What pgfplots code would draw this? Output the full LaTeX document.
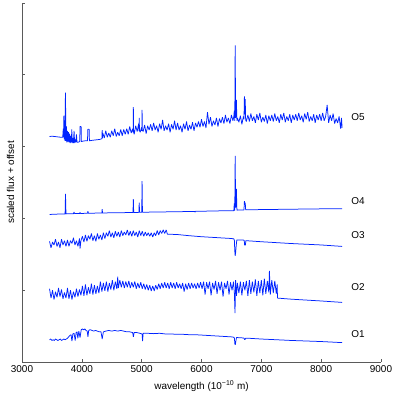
\documentclass[border=0pt]{standalone}
\usepackage{fontspec}
\setmainfont{Liberation Sans}
\usepackage{pgfplots}
\pgfplotsset{compat=1.18}
\definecolor{specblue}{RGB}{0,35,255}
\definecolor{axgray}{RGB}{90,90,90}
\pgfplotsset{spec/.style={specblue, no markers, line width=0.75bp, line join=bevel}}
\begin{document}
\begin{tikzpicture}
\begin{axis}[
  scale only axis, width=359bp, height=359bp,
  xmin=3000, xmax=9000, ymin=0, ymax=5,
  axis lines=left, axis line style={-,axgray,line width=0.6bp},
  tick style={axgray,line width=0.6bp}, major tick length=3bp, tick align=inside,
  xtick={3000,4000,...,9000}, ytick={0,1,...,5}, yticklabels={},
  scaled x ticks=false,
  /pgf/number format/1000 sep={}, /pgf/number format/assume math mode=true,
  tick label style={font=\fontsize{10}{12}\selectfont},
  label style={font=\fontsize{10}{12}\selectfont},
  xlabel={wavelength (10\textsuperscript{−10} m)},
  ylabel={scaled flux + offset},
  xlabel style={at={(axis description cs:0.5,0)},anchor=north,yshift=-15bp},
  ylabel style={at={(axis description cs:-0.012,0.5)},anchor=south},
  clip=false,
]
% O5
\addplot[spec] coordinates {(3460,3.14)(3500,3.145)(3550,3.14)(3600,3.135)(3650,3.13)(3680,3.13)(3690,3.25)(3695,3.13)(3700,3.43)(3706,3.10)(3712,3.30)(3718,3.08)(3723,3.60)(3727,3.75)(3731,3.35)(3736,3.08)(3742,3.28)(3750,3.06)(3760,3.22)(3768,3.07)(3778,3.20)(3786,3.06)(3795,3.18)(3805,3.05)(3815,3.15)(3825,3.06)(3832,3.24)(3840,3.05)(3850,3.12)(3860,3.05)(3870,3.22)(3880,3.05)(3890,3.10)(3900,3.06)(3910,3.17)(3920,3.06)(3935,3.06)(3965,3.07)(3970,3.28)(3988,3.28)(3992,3.07)(4010,3.075)(4050,3.08)(4095,3.08)(4100,3.24)(4122,3.24)(4127,3.08)(4150,3.085)(4200,3.09)(4250,3.095)(4300,3.10)(4335,3.11)(4340,3.23)(4345,3.12)
(4350,3.19)(4375,3.12)(4400,3.22)(4425,3.13)(4450,3.19)(4475,3.13)(4500,3.22)(4525,3.15)(4550,3.25)(4575,3.14)(4600,3.20)(4625,3.15)(4650,3.24)(4675,3.15)(4700,3.24)(4725,3.17)(4750,3.25)(4775,3.17)(4800,3.28)(4825,3.19)(4850,3.25)(4857,3.20)(4861,3.55)(4866,3.20)(4875,3.17)(4900,3.29)(4925,3.21)(4950,3.32)(4955,3.22)(4959,3.40)(4964,3.22)(4975,3.20)(5000,3.27)(5003,3.22)(5007,3.51)(5011,3.23)(5025,3.21)(5050,3.30)(5075,3.18)(5100,3.29)(5125,3.23)(5150,3.31)(5175,3.22)(5200,3.33)(5225,3.23)(5250,3.29)(5275,3.20)(5300,3.32)(5325,3.24)(5350,3.37)(5375,3.22)(5400,3.29)(5425,3.23)(5450,3.32)(5475,3.20)(5500,3.31)(5525,3.24)(5550,3.36)(5575,3.23)(5600,3.33)(5625,3.23)(5650,3.29)(5675,3.20)(5700,3.32)(5725,3.24)(5750,3.35)(5775,3.22)(5800,3.30)(5825,3.24)(5850,3.34)(5875,3.22)(5900,3.33)(5925,3.27)(5950,3.35)(5975,3.27)(6000,3.38)(6025,3.28)(6050,3.35)(6075,3.26)(6100,3.48)(6125,3.31)(6150,3.41)(6175,3.28)(6200,3.36)(6225,3.30)(6250,3.40)(6275,3.28)(6300,3.39)(6325,3.33)(6350,3.41)(6375,3.32)(6400,3.44)(6425,3.34)(6450,3.40)(6475,3.32)(6500,3.44)(6525,3.36)(6540,3.42)(6548,3.50)(6556,3.36)(6563,4.41)(6570,3.40)(6583,3.65)(6592,3.36)(6600,3.40)(6625,3.34)(6650,3.43)(6675,3.31)(6700,3.42)(6710,3.38)(6717,3.70)(6724,3.45)(6731,3.66)(6738,3.37)(6750,3.35)(6775,3.44)(6800,3.35)(6825,3.46)(6850,3.36)(6875,3.42)(6900,3.33)(6925,3.45)(6950,3.37)(6975,3.47)(7000,3.34)(7025,3.41)(7050,3.35)(7075,3.44)(7100,3.32)(7125,3.43)(7150,3.36)(7175,3.44)(7200,3.35)(7225,3.46)(7250,3.36)(7275,3.42)(7300,3.33)(7325,3.45)(7350,3.37)(7375,3.47)(7400,3.34)(7425,3.42)(7450,3.36)(7475,3.45)(7500,3.33)(7525,3.44)(7550,3.37)(7575,3.45)(7600,3.36)(7625,3.47)(7650,3.37)(7675,3.43)(7700,3.34)(7725,3.46)(7750,3.38)(7775,3.48)(7800,3.35)(7825,3.42)(7850,3.36)(7875,3.45)(7900,3.33)(7925,3.44)(7950,3.37)(7975,3.45)(8000,3.36)(8025,3.47)(8050,3.36)(8075,3.42)(8100,3.58)(8125,3.33)(8150,3.44)(8175,3.36)(8200,3.46)(8225,3.32)(8250,3.39)(8275,3.33)(8300,3.42)(8325,3.25)(8340,3.40)(8350,3.26)};
% O4
\addplot[spec] coordinates {(3460,2.055)(3600,2.060)(3720,2.063)(3727,2.34)(3735,2.063)(3860,2.066)(3869,2.09)(3878,2.068)(3965,2.068)(3970,2.085)(3976,2.069)(4095,2.071)(4102,2.10)(4108,2.072)(4335,2.075)(4340,2.13)(4346,2.076)(4855,2.082)(4861,2.27)(4867,2.083)(4953,2.084)(4959,2.22)(4965,2.085)(5001,2.085)(5007,2.52)(5013,2.086)(5500,2.092)(5890,2.097)(5893,2.085)(5896,2.098)(6300,2.105)(6540,2.108)(6548,2.21)(6556,2.11)(6563,2.87)(6570,2.15)(6583,2.41)(6592,2.115)(6710,2.118)(6717,2.24)(6724,2.20)(6731,2.22)(6738,2.12)(7500,2.128)(8000,2.133)(8350,2.136)};
% O3
\addplot[spec] coordinates {(3460,1.68)(3485,1.59)(3510,1.67)(3535,1.63)(3560,1.71)(3585,1.61)(3610,1.67)(3635,1.59)(3660,1.71)(3685,1.63)(3710,1.69)(3735,1.61)(3760,1.70)(3785,1.61)(3810,1.69)(3835,1.65)(3860,1.73)(3885,1.63)(3910,1.69)(3935,1.61)(3960,1.72)(3970,1.58)(3985,1.69)(4010,1.75)(4035,1.67)(4060,1.77)(4085,1.68)(4110,1.76)(4135,1.71)(4160,1.79)(4185,1.69)(4210,1.76)(4235,1.68)(4260,1.79)(4285,1.71)(4310,1.77)(4335,1.70)(4360,1.80)(4385,1.72)(4410,1.80)(4435,1.75)(4460,1.83)(4485,1.74)(4510,1.80)(4535,1.73)(4560,1.82)(4585,1.75)(4610,1.81)(4635,1.74)(4660,1.83)(4685,1.76)(4710,1.81)(4735,1.77)(4760,1.84)(4785,1.76)(4810,1.82)(4835,1.75)(4860,1.83)(4885,1.76)(4910,1.81)(4935,1.74)(4960,1.83)(4985,1.76)(5010,1.82)(5035,1.75)(5060,1.81)(5085,1.76)(5110,1.80)(5135,1.75)(5160,1.80)(5185,1.74)(5210,1.80)(5235,1.76)(5260,1.83)(5285,1.77)(5310,1.83)(5335,1.79)(5360,1.84)(5385,1.79)(5410,1.84)(5430,1.78)(5450,1.78)(5600,1.775)(5780,1.76)(6000,1.745)(6300,1.73)(6500,1.72)(6540,1.715)(6550,1.69)(6556,1.55)(6563,1.48)(6570,1.52)(6580,1.62)(6590,1.70)(6700,1.70)(6715,1.69)(6720,1.63)(6735,1.63)(6740,1.69)(7000,1.675)(7500,1.65)(8000,1.63)(8350,1.61)};
% O2
\addplot[spec] coordinates {(3460,1.02)(3485,0.89)(3510,1.00)(3535,0.87)(3560,0.98)(3585,0.90)(3610,1.03)(3635,0.91)(3660,1.01)(3685,0.88)(3710,0.97)(3735,0.89)(3760,1.03)(3785,0.88)(3810,1.00)(3835,0.87)(3860,0.98)(3885,0.90)(3910,1.02)(3935,0.91)(3960,1.01)(3985,0.93)(4010,1.06)(4035,0.92)(4060,1.08)(4085,0.93)(4110,1.04)(4135,0.95)(4160,1.09)(4185,0.94)(4210,1.07)(4235,0.95)(4260,1.06)(4285,0.96)(4310,1.12)(4335,0.98)(4360,1.10)(4385,0.99)(4410,1.12)(4435,0.98)(4460,1.10)(4485,1.01)(4510,1.14)(4535,1.00)(4560,1.12)(4585,1.02)(4600,1.19)(4610,1.03)(4635,1.14)(4660,1.04)(4685,1.13)(4710,1.03)(4735,1.12)(4760,1.04)(4785,1.13)(4810,1.03)(4835,1.11)(4860,1.04)(4885,1.12)(4910,1.02)(4935,1.10)(4960,1.03)(4985,1.11)(5010,1.02)(5035,1.09)(5060,1.01)(5085,1.08)(5110,1.00)(5135,1.07)(5160,0.99)(5185,1.06)(5210,0.99)(5235,1.07)(5260,1.01)(5285,1.09)(5310,1.02)(5335,1.10)(5360,1.03)(5385,1.11)(5410,1.03)(5435,1.10)(5460,1.02)(5485,1.11)(5510,1.03)(5535,1.10)(5560,1.02)(5585,1.11)(5610,1.03)(5635,1.09)(5660,1.02)(5685,1.10)(5710,0.98)(5735,1.09)(5760,1.01)(5785,1.10)(5810,1.02)(5835,1.10)(5860,1.03)(5885,1.09)(5910,1.02)(5935,1.10)(5960,1.03)(5985,1.11)(6010,1.02)(6035,1.12)(6060,0.94)(6085,1.11)(6110,1.02)(6135,1.12)(6160,0.93)(6185,1.10)(6210,1.01)(6235,1.13)(6260,0.95)(6285,1.11)(6310,1.00)(6335,1.12)(6360,0.91)(6385,1.10)(6410,1.02)(6435,1.13)(6460,0.94)(6485,1.11)(6510,1.00)(6535,1.12)(6550,0.95)(6560,0.68)(6570,1.14)(6585,0.92)(6600,1.10)(6625,0.96)(6650,1.12)(6675,0.93)(6700,1.11)(6725,1.00)(6750,1.13)(6775,0.92)(6800,1.14)(6825,0.95)(6850,1.12)(6875,0.97)(6900,1.15)(6925,0.92)(6950,1.13)(6975,0.96)(7000,1.14)(7025,0.93)(7050,1.16)(7075,0.95)(7100,1.13)(7125,0.97)(7135,1.27)(7150,0.94)(7175,1.14)(7200,0.96)(7225,1.13)(7250,0.95)(7265,1.08)(7270,0.89)(7500,0.875)(8000,0.85)(8350,0.83)};
% O1
\addplot[spec] coordinates {(3460,0.31)(3480,0.32)(3500,0.30)(3520,0.31)(3540,0.30)(3560,0.32)(3580,0.31)(3600,0.30)(3620,0.31)(3640,0.32)(3660,0.30)(3680,0.31)(3700,0.32)(3720,0.31)(3740,0.32)(3760,0.33)(3780,0.35)(3800,0.37)(3820,0.38)(3835,0.29)(3850,0.39)(3870,0.40)(3889,0.30)(3905,0.41)(3920,0.42)(3933,0.33)(3950,0.43)(3970,0.34)(3990,0.45)(4010,0.46)(4030,0.45)(4050,0.46)(4070,0.44)(4090,0.43)(4102,0.35)(4115,0.44)(4140,0.45)(4170,0.44)(4200,0.43)(4230,0.44)(4260,0.43)(4290,0.42)(4320,0.42)(4340,0.32)(4360,0.42)(4400,0.43)(4450,0.44)(4500,0.43)(4550,0.44)(4600,0.43)(4650,0.44)(4700,0.43)(4750,0.42)(4800,0.42)(4850,0.41)(4861,0.35)(4875,0.41)(4920,0.41)(4970,0.40)(5007,0.39)(5015,0.29)(5025,0.40)(5100,0.40)(5200,0.395)(5300,0.40)(5400,0.39)(5500,0.39)(5600,0.385)(5700,0.385)(5800,0.38)(5900,0.38)(6000,0.375)(6100,0.37)(6200,0.365)(6300,0.36)(6400,0.355)(6500,0.35)(6540,0.345)(6550,0.33)(6558,0.25)(6565,0.24)(6572,0.28)(6585,0.34)(6600,0.34)(6700,0.335)(6712,0.33)(6718,0.315)(6730,0.315)(6735,0.33)(6800,0.33)(7000,0.32)(7500,0.30)(8000,0.285)(8350,0.27)};
\begin{scope}[every node/.style={anchor=west,inner sep=0pt,font=\fontsize{10}{12}\selectfont}]
\node at (axis cs:8500,3.41) {O5};
\node at (axis cs:8500,2.24) {O4};
\node at (axis cs:8500,1.77) {O3};
\node at (axis cs:8500,1.05) {O2};
\node at (axis cs:8500,0.39) {O1};
\end{scope}
\end{axis}
\pgfresetboundingbox
\path ([xshift=-22bp,yshift=-32bp]current axis.south west) rectangle ([xshift=15bp,yshift=3bp]current axis.north east);
\end{tikzpicture}
\end{document}
